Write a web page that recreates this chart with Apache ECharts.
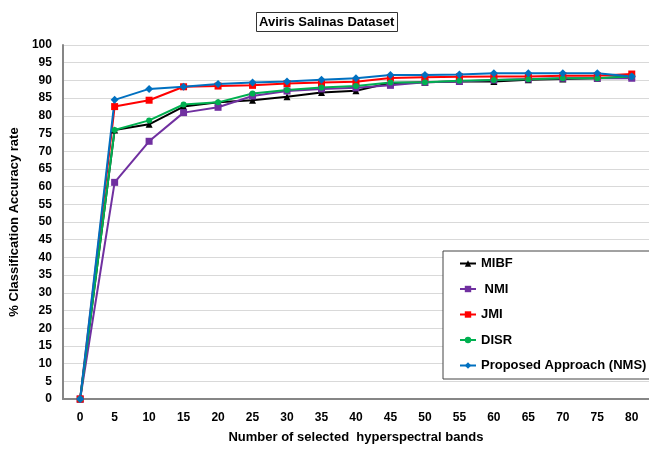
<!DOCTYPE html>
<html>
<head>
<meta charset="utf-8">
<script src="https://cdn.jsdelivr.net/npm/echarts@6/dist/echarts.min.js"></script>
<style>
  html, body { margin: 0; padding: 0; background: #fff; }
  #chart { width: 649px; height: 449px; }
</style>
</head>
<body>
<div id="chart"></div>
<script>
// number of selected bands
const bands = ['0', '5', '10', '15', '20', '25', '30', '35', '40', '45', '50', '55', '60', '65', '70', '75', '80'];

const mibf = [0, 76.0, 77.6, 82.6, 83.8, 84.4, 85.4, 86.6, 87.1, 89.3, 89.5, 89.7, 89.7, 90.2, 90.4, 90.6, 91.1];
const nmi = [0, 61.2, 72.8, 80.9, 82.4, 85.6, 87.0, 87.6, 87.9, 88.6, 89.5, 89.7, 90.1, 90.4, 90.6, 90.6, 90.6];
const jmi = [0, 82.6, 84.4, 88.2, 88.4, 88.6, 89.1, 89.4, 89.6, 90.7, 90.9, 91.0, 91.1, 91.1, 91.3, 91.3, 91.8];
const disr = [0, 76.0, 78.7, 83.2, 83.8, 86.3, 87.3, 88.0, 88.4, 89.4, 89.5, 89.9, 90.1, 90.3, 90.6, 90.6, 91.1];
const proposed = [0, 84.5, 87.6, 88.2, 89.0, 89.4, 89.7, 90.2, 90.6, 91.5, 91.5, 91.7, 92.0, 92.0, 92.0, 92.0, 91.1];

const FONT = '"Liberation Sans", Arial, sans-serif';

const mkSeries = (name, data, color, symbol, size) => ({
  name: name,
  type: 'line',
  data: data,
  symbol: symbol,
  symbolSize: size,
  showSymbol: true,
  lineStyle: { color: color, width: 2 },
  itemStyle: { color: color },
  emphasis: { disabled: true },
  z: 2
});

const chart = echarts.init(document.getElementById('chart'));

chart.setOption({
  animation: false,
  backgroundColor: '#fff',
  title: {
    text: 'Aviris Salinas Dataset',
    left: 256,
    top: 12,
    padding: [4, 3, 3, 3],
    borderColor: '#333',
    borderWidth: 1,
    textStyle: { fontFamily: FONT, fontSize: 13, fontWeight: 'bold', color: '#000' }
  },
  legend: {
    orient: 'vertical',
    left: 443,
    top: 251,
    padding: [6, 14, 7, 16],
    itemGap: 12.5,
    itemWidth: 16,
    itemHeight: 8,
    borderColor: '#444',
    borderWidth: 1,
    backgroundColor: '#fff',
    textStyle: { fontFamily: FONT, fontSize: 13, fontWeight: 'bold', color: '#000' },
    data: ['MIBF', ' NMI', 'JMI', 'DISR', 'Proposed Approach (NMS)']
  },
  grid: { left: 62, right: 0, top: 45, bottom: 47, containLabel: false },
  xAxis: {
    type: 'category',
    data: bands,
    boundaryGap: true,
    name: 'Number of selected  hyperspectral bands',
    nameLocation: 'middle',
    nameGap: 32,
    nameTextStyle: { fontFamily: FONT, fontSize: 13, fontWeight: 'bold', color: '#000' },
    axisLine: { lineStyle: { color: '#868686', width: 2 } },
    axisTick: { show: false },
    axisLabel: { fontFamily: FONT, fontSize: 12, fontWeight: 'bold', color: '#000', margin: 13 }
  },
  yAxis: {
    type: 'value',
    min: 0,
    max: 100,
    interval: 5,
    name: '% Classification Accuracy rate',
    nameLocation: 'middle',
    nameGap: 31,
    nameTextStyle: { fontFamily: FONT, fontSize: 13, fontWeight: 'bold', color: '#000' },
    axisLine: { show: true, lineStyle: { color: '#868686', width: 2 } },
    axisTick: { show: false },
    axisLabel: { fontFamily: FONT, fontSize: 12, fontWeight: 'bold', color: '#000', margin: 11 },
    splitLine: { lineStyle: { color: '#d9d9d9', width: 1 } }
  },
  series: [
    mkSeries('MIBF', mibf, '#000000', 'triangle', 7),
    mkSeries(' NMI', nmi, '#7030a0', 'rect', 7),
    mkSeries('JMI', jmi, '#ff0000', 'rect', 7),
    mkSeries('DISR', disr, '#00b050', 'circle', 6),
    mkSeries('Proposed Approach (NMS)', proposed, '#0070c0', 'diamond', 8)
  ]
});
</script>
</body>
</html>
